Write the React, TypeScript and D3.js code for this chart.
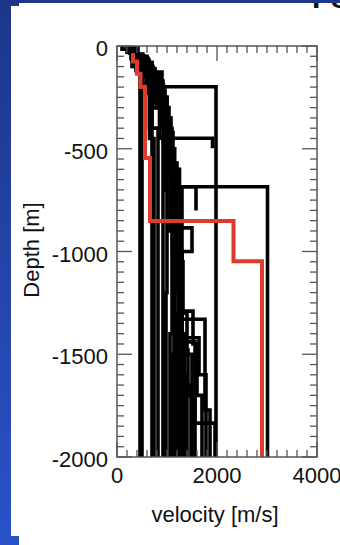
import React, { useEffect, useRef } from "react";
import * as d3 from "d3";

// each layer: [depth of layer top in m, velocity in m/s]; last entry = bottom of the profile
type Layer = [number, number];

const xMajorTicks = [0, 2000, 4000];
const yMajorTicks = [0, -500, -1000, -1500, -2000];

const redWell: Layer[] = [[35, 320], [75, 400], [135, 470], [200, 560], [545, 660], [852, 2330], [1048, 2900], [2000, 2900]];

const wellA: Layer[] = [[0, 300], [40, 520], [127, 900], [198, 1980], [2000, 1980]];
const wellB: Layer[] = [[0, 350], [60, 600], [200, 850], [449, 1910], [497, 1910]];
const wellC: Layer[] = [[0, 400], [80, 700], [300, 1000], [500, 1150], [685, 3010], [2000, 3010]];
const wellD: Layer[] = [[0, 300], [100, 650], [400, 1000], [685, 1580], [800, 1580]];
const wellE: Layer[] = [[0, 200], [30, 330], [70, 420], [110, 500], [2000, 500]];
const wellF: Layer[] = [[0, 100], [15, 250], [35, 380], [60, 460], [2000, 460]];
const wellG: Layer[] = [[0, 320], [40, 450], [120, 600], [230, 700], [2000, 700]];
const wellH: Layer[] = [[0, 350], [80, 520], [180, 650], [450, 740], [2000, 740]];
const wellI: Layer[] = [[0, 280], [60, 500], [150, 700], [400, 820], [2000, 820]];
const wellJ: Layer[] = [[0, 300], [40, 500], [100, 700], [200, 920], [2000, 920]];
const wellK: Layer[] = [[0, 350], [60, 560], [150, 800], [300, 960], [700, 1000], [1200, 980], [2000, 980]];
const wellL: Layer[] = [[0, 320], [50, 600], [140, 850], [250, 1000], [480, 1060], [900, 1100], [1400, 1060], [2000, 1060]];
const wellM: Layer[] = [[0, 380], [70, 640], [170, 900], [350, 1080], [570, 1200], [800, 1160], [1200, 1150], [2000, 1150]];
const wellN: Layer[] = [[0, 300], [60, 620], [160, 880], [300, 1040], [500, 1120], [685, 1300], [1000, 1260], [1300, 1240], [1500, 1300], [2000, 1300]];
const wellO: Layer[] = [[0, 400], [80, 700], [200, 950], [400, 1100], [600, 1250], [885, 1500], [1000, 1300], [1300, 1400], [1500, 1500], [2000, 1500]];
const wellP: Layer[] = [[0, 300], [70, 600], [180, 900], [350, 1050], [600, 1200], [900, 1280], [1290, 1520], [1450, 1600], [1700, 1700], [2000, 1700]];
const wellQ: Layer[] = [[0, 350], [80, 640], [200, 950], [450, 1100], [700, 1250], [1000, 1300], [1330, 1760], [1771, 1860], [2000, 1860]];
const wellR: Layer[] = [[0, 330], [60, 600], [170, 920], [400, 1080], [650, 1220], [1100, 1290], [1400, 1350], [1650, 1480], [2000, 1480]];
const wellS: Layer[] = [[0, 400], [100, 720], [250, 1000], [500, 1150], [800, 1230], [1200, 1280], [1350, 1200], [1500, 1250], [2000, 1250]];
const wellT: Layer[] = [[0, 350], [100, 700], [300, 1000], [600, 1180], [1000, 1300], [1440, 1560], [1835, 1960], [2000, 1960]];
const wellU: Layer[] = [[0, 300], [50, 550], [130, 820], [280, 980], [550, 1100], [850, 1200], [1150, 1220], [1400, 1320], [1600, 1400], [2000, 1400]];
const wellV: Layer[] = [[0, 360], [90, 680], [220, 960], [420, 1120], [640, 1240], [900, 1260], [1250, 1300], [1480, 1420], [1700, 1560], [2000, 1560]];
const wellW: Layer[] = [[0, 320], [60, 600], [160, 860], [320, 1020], [540, 1140], [760, 1250], [1050, 1320], [1300, 1200], [1600, 1350], [2000, 1350]];
const wellX: Layer[] = [[0, 380], [120, 760], [280, 1000], [520, 1130], [780, 1200], [1000, 1240], [1420, 1640], [1600, 1780], [2000, 1780]];
const wellY: Layer[] = [[0, 340], [70, 640], [190, 930], [360, 1060], [620, 1180], [950, 1230], [1310, 1180], [1490, 1200], [2000, 1200]];
const wellZ: Layer[] = [[0, 420], [110, 760], [240, 940], [380, 1020], [600, 1110], [1000, 1140], [1500, 1100], [2000, 1100]];

const blackWells = [wellA, wellB, wellC, wellD, wellE, wellF, wellG, wellH, wellI, wellJ,
  wellK, wellL, wellM, wellN, wellO, wellP, wellQ, wellR, wellS, wellT,
  wellU, wellV, wellW, wellX, wellY, wellZ];

const FONT = "'Liberation Sans', Arial, sans-serif";

export default function App() {
  const ref = useRef<SVGSVGElement>(null);

  useEffect(() => {
    const svg = d3.select(ref.current);
    svg.selectAll("*").remove();

    const width = 340, height = 545;
    const plot = { left: 117, right: 317, top: 46, bottom: 457 };

    // slide background
    const grad = svg.append("defs").append("linearGradient")
      .attr("id", "bg").attr("x1", 0).attr("y1", 0).attr("x2", 0).attr("y2", 1);
    grad.append("stop").attr("offset", "0%").attr("stop-color", "#1d368a");
    grad.append("stop").attr("offset", "100%").attr("stop-color", "#2a52c8");
    svg.append("rect").attr("width", width).attr("height", height).attr("fill", "url(#bg)");
    svg.append("rect").attr("x", 11).attr("y", 6).attr("width", 329).attr("height", 530).attr("fill", "#fff");
    svg.append("rect").attr("x", 19).attr("y", 3).attr("width", 321).attr("height", 542).attr("fill", "#fff");
    svg.append("text").attr("x", 312).attr("y", 8)
      .style("font-family", FONT).style("font-size", "30px").style("font-weight", "bold")
      .attr("fill", "#111").text("Fo");
    svg.append("rect").attr("width", width).attr("height", 3).attr("fill", "#1d368a");

    const x = d3.scaleLinear().domain([0, 4000]).range([plot.left, plot.right]);
    const y = d3.scaleLinear().domain([0, -2000]).range([plot.top, plot.bottom]);

    svg.append("clipPath").attr("id", "plotClip").append("rect")
      .attr("x", plot.left).attr("y", plot.top)
      .attr("width", plot.right - plot.left).attr("height", plot.bottom - plot.top);

    const toPoints = (well: Layer[]) => {
      const pts: [number, number][] = [];
      for (let i = 0; i < well.length - 1; i++) {
        pts.push([well[i][1], -well[i][0]]);
        pts.push([well[i][1], -well[i + 1][0]]);
      }
      return pts;
    };
    const line = d3.line<[number, number]>().x(d => x(d[0])).y(d => y(d[1]));

    const lines = svg.append("g").attr("clip-path", "url(#plotClip)");
    lines.selectAll("path.black")
      .data(blackWells)
      .enter().append("path")
      .attr("class", "black")
      .attr("d", d => line(toPoints(d)))
      .attr("fill", "none").attr("stroke", "#000").attr("stroke-width", 3.6)
      .attr("stroke-linejoin", "miter");
    lines.append("path")
      .attr("d", line(toPoints(redWell)))
      .attr("fill", "none").attr("stroke", "#e03a2f").attr("stroke-width", 4);

    // frame and ticks (inside, mirrored)
    const axisColor = "#555";
    const ticks = svg.append("g").attr("stroke", axisColor).attr("stroke-width", 1.3);
    const xMinor = d3.range(0, 4001, 200);
    xMinor.forEach(v => {
      const len = xMajorTicks.includes(v) ? 15 : 7;
      ticks.append("line").attr("x1", x(v)).attr("x2", x(v)).attr("y1", plot.bottom).attr("y2", plot.bottom - len);
      ticks.append("line").attr("x1", x(v)).attr("x2", x(v)).attr("y1", plot.top).attr("y2", plot.top + len);
    });
    const yMinor = d3.range(0, -2001, -50);
    yMinor.forEach(v => {
      const len = yMajorTicks.includes(v) ? 15 : 7;
      ticks.append("line").attr("y1", y(v)).attr("y2", y(v)).attr("x1", plot.left).attr("x2", plot.left + len);
      ticks.append("line").attr("y1", y(v)).attr("y2", y(v)).attr("x1", plot.right).attr("x2", plot.right - len);
    });
    svg.append("rect")
      .attr("x", plot.left).attr("y", plot.top)
      .attr("width", plot.right - plot.left).attr("height", plot.bottom - plot.top)
      .attr("fill", "none").attr("stroke", axisColor).attr("stroke-width", 1.5);

    // tick labels
    const labels = svg.append("g").style("font-family", FONT).style("font-size", "22px").attr("fill", "#111");
    labels.selectAll("text.x")
      .data(xMajorTicks)
      .enter().append("text")
      .attr("x", d => x(d)).attr("y", 483)
      .attr("text-anchor", "middle")
      .text(d => String(d));
    labels.selectAll("text.y")
      .data(yMajorTicks)
      .enter().append("text")
      .attr("x", 108).attr("y", d => y(d) + 10)
      .attr("text-anchor", "end")
      .text(d => String(d));

    labels.append("text")
      .attr("x", 215).attr("y", 522)
      .attr("text-anchor", "middle")
      .text("velocity [m/s]");
    labels.append("text")
      .attr("transform", "translate(39,250) rotate(-90)")
      .attr("text-anchor", "middle")
      .text("Depth [m]");
  }, []);

  return (
    <svg ref={ref} width={340} height={545}
      style={{ position: "absolute", left: 0, top: 0, display: "block" }} />
  );
}
